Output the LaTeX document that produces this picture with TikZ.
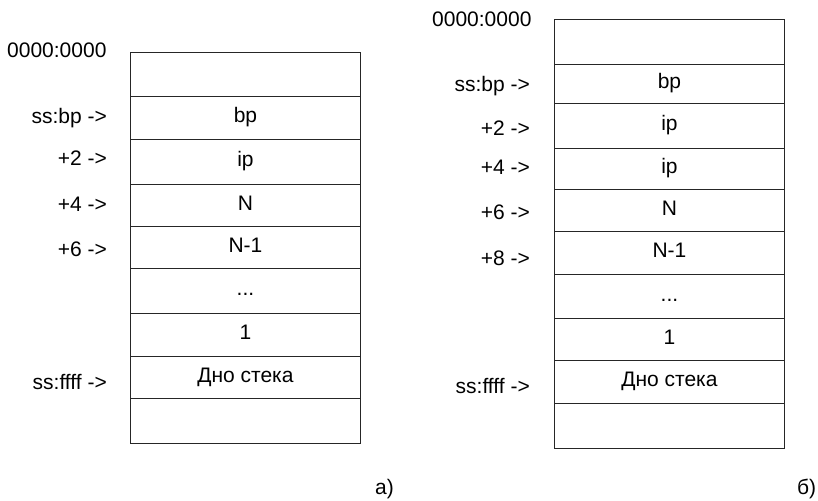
\documentclass[tikz,border=0pt]{standalone}
\usepackage{fontspec}
\setmainfont{Liberation Sans}
\newcommand\cellgap{...}
\begin{document}
\begin{tikzpicture}[x=1pt,y=-1pt,
  every node/.style={font=\fontsize{21}{25}\selectfont, text=black},
  cell/.style={draw=black!85, line width=0.9pt, inner sep=0pt, anchor=north west,
    minimum width=230pt, text height=14pt, text depth=4pt},
  addr/.style={anchor=base east, inner sep=0pt},
  caption/.style={anchor=base west, inner sep=0pt}]
\useasboundingbox (0,0) rectangle (818,500);

% stack a): cells given as top/bottom/content/name
\foreach \t/\b/\txt/\nm in {52/96//La0, 96/139/bp/La1, 139/184/ip/La2,
    184/226/N/La3, 226/268/N-1/La4, 268/313/\cellgap/La5, 313/356/1/La6,
    356/398/Дно стека/La7, 398/443//La8}
  \node[cell, minimum height={(\b-\t)*1pt}] (\nm) at (130,\t) {\txt};

% stack b)
\foreach \t/\b/\txt/\nm in {19/64//Rb0, 64/103/bp/Rb1, 103/148/ip/Rb2,
    148/189/ip/Rb3, 189/231/N/Rb4, 231/274/N-1/Rb5, 274/318/\cellgap/Rb6,
    318/360/1/Rb7, 360/403/Дно стека/Rb8, 403/448//Rb9}
  \node[cell, minimum height={(\b-\t)*1pt}] (\nm) at (554,\t) {\txt};

% address labels of a)
\node[anchor=base west, inner sep=0pt] (aTop) at (7,58) {0000:0000};
\node[addr] (aBp)  at (107,123) {ss:bp ->};
\node[addr] (aP2)  at (107,165) {+2 ->};
\node[addr] (aP4)  at (107,211) {+4 ->};
\node[addr] (aP6)  at (107,256) {+6 ->};
\node[addr] (aFf)  at (107,389) {ss:ffff ->};

% address labels of b)
\node[anchor=base west, inner sep=0pt] (bTop) at (432,27) {0000:0000};
\node[addr] (bBp)  at (530,92)  {ss:bp ->};
\node[addr] (bP2)  at (530,135) {+2 ->};
\node[addr] (bP4)  at (530,174) {+4 ->};
\node[addr] (bP6)  at (530,219) {+6 ->};
\node[addr] (bP8)  at (530,265) {+8 ->};
\node[addr] (bFf)  at (530,393) {ss:ffff ->};

% captions
\node[caption] (capA) at (375,494) {а)};
\node[caption] (capB) at (797,494) {б)};
\end{tikzpicture}
\end{document}
